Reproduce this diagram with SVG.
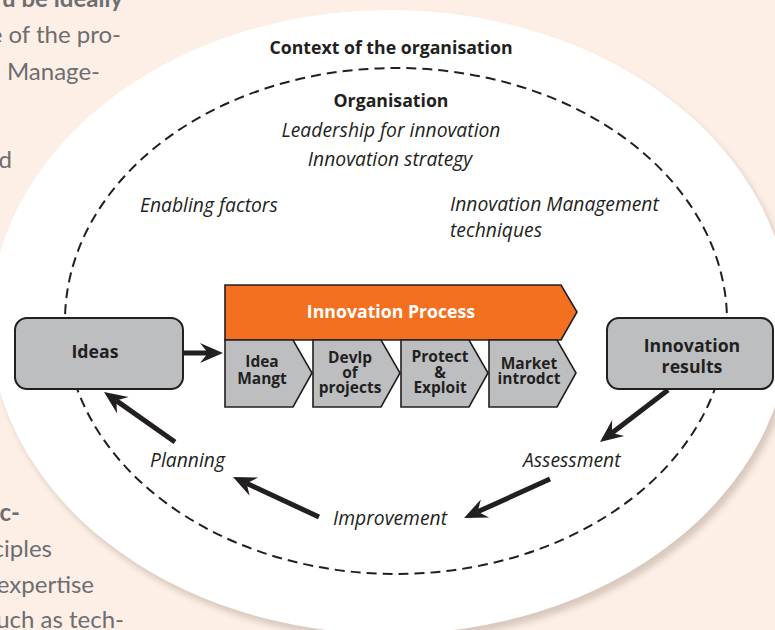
<svg xmlns="http://www.w3.org/2000/svg" width="775" height="630" viewBox="0 0 775 630">
<defs>
<style>
.bg{font-family:Lato,"Open Sans",sans-serif;font-size:24px;fill:#6d6e71}
.t{font-family:"Open Sans",Lato,sans-serif;fill:#231f20}
.b{font-weight:bold;font-size:17.7px}
.i{font-style:italic;font-size:19.3px}
.box{fill:#bcbec0;stroke:#231f20;stroke-width:2}
.chev{fill:#bcbec0;stroke:#231f20;stroke-width:1.6}
.ct{font-family:"Open Sans",Lato,sans-serif;font-weight:bold;font-size:15.5px;fill:#231f20;text-anchor:middle}
.arr{stroke:#231f20;stroke-width:5;fill:none;marker-end:url(#ah)}
</style>
<marker id="ah" markerUnits="userSpaceOnUse" viewBox="-10 -12 30 24" markerWidth="30" markerHeight="24" refX="0" refY="0" orient="auto" overflow="visible">
<path d="M15,0 L-8,-10 L0,0 L-8,10 Z" fill="#231f20"/>
</marker>
<filter id="sh" x="-10%" y="-10%" width="120%" height="120%">
<feGaussianBlur stdDeviation="3"/>
</filter>
</defs>
<rect width="775" height="630" fill="#fdefe6"/>
<g id="page-text">
<text class="bg" x="123" y="7" text-anchor="end" font-weight="bold">u be ideally</text>
<text class="bg" x="121" y="43" text-anchor="end">e of the pro-</text>
<text class="bg" x="100" y="80" text-anchor="end">Manage-</text>
<text class="bg" x="12" y="168" text-anchor="end">d</text>
<text class="bg" x="20" y="521" text-anchor="end" font-weight="bold">c-</text>
<text class="bg" x="52" y="557" text-anchor="end">ciples</text>
<text class="bg" x="94" y="593" text-anchor="end">expertise</text>
<text class="bg" x="124" y="628" text-anchor="end">uch as tech-</text>
</g>
<ellipse cx="394" cy="328" rx="400" ry="312" fill="#d8c8bd" filter="url(#sh)"/>
<ellipse id="context" cx="390" cy="322" rx="400" ry="312" fill="#ffffff"/>
<ellipse id="organisation" cx="396" cy="321" rx="331" ry="253" fill="none" stroke="#231f20" stroke-width="2" stroke-dasharray="10 6"/>
<g id="labels">
<text class="t b" x="391" y="54" text-anchor="middle">Context of the organisation</text>
<text class="t b" x="391" y="107" text-anchor="middle">Organisation</text>
<text class="t i" x="391" y="137" text-anchor="middle">Leadership for innovation</text>
<text class="t i" x="390" y="166" text-anchor="middle">Innovation strategy</text>
<text class="t i" x="140" y="212">Enabling factors</text>
<text class="t i" x="450" y="211">Innovation Management</text>
<text class="t i" x="450" y="237">techniques</text>
<text class="t i" x="150" y="467">Planning</text>
<text class="t i" x="523" y="467">Assessment</text>
<text class="t i" x="333" y="525">Improvement</text>
</g>
<g id="ideas">
<rect class="box" x="15" y="318" width="168" height="71" rx="12"/>
<text class="t b" x="95" y="358" text-anchor="middle">Ideas</text>
</g>
<g id="innovation-results">
<rect class="box" x="607" y="318" width="166" height="71" rx="12"/>
<text class="t b" x="692" y="352" text-anchor="middle">Innovation</text>
<text class="t b" x="692" y="373" text-anchor="middle">results</text>
</g>
<g id="innovation-process">
<path d="M225,285 L561,285 L577,312 L561,340 L225,340 Z" fill="#f37021" stroke="#231f20" stroke-width="1.6"/>
<text class="t b" x="391" y="318" text-anchor="middle" style="fill:#ffffff">Innovation Process</text>
</g>
<g id="idea-mangt">
<path class="chev" d="M225,340 L293,340 L312,373 L293,407 L225,407 Z"/>
<text class="ct" x="262" y="367">Idea</text>
<text class="ct" x="262" y="384">Mangt</text>
</g>
<g id="devlp-projects">
<path class="chev" d="M313,340 L381,340 L400,373 L381,407 L313,407 Z"/>
<text class="ct" x="350" y="363">Devlp</text>
<text class="ct" x="350" y="378">of</text>
<text class="ct" x="350" y="393">projects</text>
</g>
<g id="protect-exploit">
<path class="chev" d="M401,340 L469,340 L488,373 L469,407 L401,407 Z"/>
<text class="ct" x="440" y="362">Protect</text>
<text class="ct" x="440" y="378">&amp;</text>
<text class="ct" x="440" y="393">Exploit</text>
</g>
<g id="market-introdct">
<path class="chev" d="M489,340 L557,340 L576,373 L557,407 L489,407 Z"/>
<text class="ct" x="529" y="369">Market</text>
<text class="ct" x="529" y="384">introdct</text>
</g>
<g id="connectors">
<line class="arr" x1="184" y1="353" x2="208" y2="353"/>
<line class="arr" x1="175" y1="442" x2="116.3" y2="400.6"/>
<line class="arr" x1="668" y1="390" x2="611.9" y2="432.9"/>
<line class="arr" x1="550" y1="479" x2="477.7" y2="511.8"/>
<line class="arr" x1="319" y1="517" x2="246.6" y2="483.3"/>
</g>
</svg>
